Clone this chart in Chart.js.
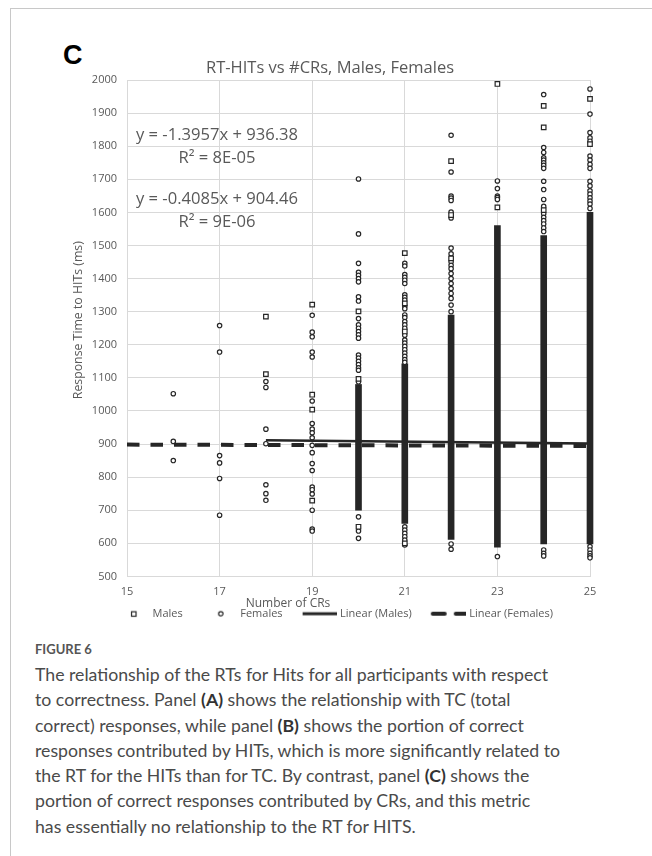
<!DOCTYPE html>
<html>
<head>
<meta charset="utf-8">
<script src="https://cdn.jsdelivr.net/npm/chart.js@4.4.1/dist/chart.umd.min.js"></script>
<style>
  html, body { margin: 0; padding: 0; background: #fff; }
  body { width: 652px; height: 856px; position: relative; overflow: hidden; font-family: "Lato", "Open Sans", sans-serif; }
  .frame { position: absolute; left: 10px; top: 8px; width: 700px; height: 900px; border-top: 1px solid #c8c8c8; border-left: 1px solid #c8c8c8; }
  .panel { position: absolute; left: 63px; top: 40px; font: bold 27px "Liberation Sans", Arial, sans-serif; color: #000; line-height: 30px; }
  #wrap { position: absolute; left: 0; top: 0; width: 652px; height: 640px; }
  .fig { position: absolute; left: 35px; top: 641px; font-size: 13px; font-weight: 700; color: #555; }
  .caption { position: absolute; left: 35px; top: 662px; width: 610px; font-size: 17.7px; line-height: 25.3px; color: #4a4a4a; white-space: nowrap; }
  .caption b { color: #333; }
</style>
</head>
<body>
<div class="frame"></div>
<div class="panel">C</div>
<div id="wrap"><canvas id="chart" width="652" height="640"></canvas></div>
<div class="fig">FIGURE 6</div>
<div class="caption">The relationship of the RTs for Hits for all participants with respect<br>to correctness. Panel <b>(A)</b> shows the relationship with TC (total<br>correct) responses, while panel <b>(B)</b> shows the portion of correct<br>responses contributed by HITs, which is more significantly related to<br>the RT for the HITs than for TC. By contrast, panel <b>(C)</b> shows the<br>portion of correct responses contributed by CRs, and this metric<br>has essentially no relationship to the RT for HITS.</div>
<script>
// chart texts
const chartTitle = "RT-HITs vs #CRs, Males, Females";
const xTitle = "Number of CRs";
const yTitle = "Response Time to HITs (ms)";
const fitLabels = ["y = -1.3957x + 936.38", "R\u00b2 = 8E-05", "y = -0.4085x + 904.46", "R\u00b2 = 9E-06"];

// axis ticks
const xTicks = [15, 17, 19, 21, 23, 25];
const yTicks = [500, 600, 700, 800, 900, 1000, 1100, 1200, 1300, 1400, 1500, 1600, 1700, 1800, 1900, 2000];

// sparse points (number of CRs, response time ms)
const malesCR = [18, 18, 19, 19, 19, 19, 20, 20, 20, 21, 21, 21, 21, 22, 22, 22, 23, 23, 24, 24, 24, 25, 25];
const malesRT = [1285, 1111, 1321, 1049, 1004, 729, 1301, 1097, 650, 1477, 1325, 1240, 600, 1755, 1592, 1461, 1988, 1615, 1922, 1857, 1607, 1943, 1806];

const femalesCR = [
  16, 16, 16,
  17, 17, 17, 17, 17, 17,
  18, 18, 18, 18, 18, 18, 18,
  19, 19, 19, 19, 19, 19, 19, 19, 19, 19, 19, 19, 19, 19, 19, 19, 19, 19, 19, 19,
  20, 20, 20, 20, 20, 20, 20, 20, 20, 20, 20, 20, 20, 20, 20, 20, 20, 20, 20, 20, 20, 20, 20, 20, 20,
  21, 21, 21, 21, 21, 21, 21, 21, 21, 21, 21, 21, 21, 21, 21, 21, 21, 21, 21, 21, 21, 21, 21, 21, 21, 21, 21, 21, 21, 21, 21,
  22, 22, 22, 22, 22, 22, 22, 22, 22, 22, 22, 22, 22, 22, 22, 22, 22, 22, 22, 22, 22, 22,
  23, 23, 23, 23, 23, 23,
  24, 24, 24, 24, 24, 24, 24, 24, 24, 24, 24, 24, 24, 24, 24, 24, 24, 24, 24, 24, 24,
  25, 25, 25, 25, 25, 25, 25, 25, 25, 25, 25, 25, 25, 25, 25, 25, 25, 25, 25, 25, 25, 25
];
const femalesRT = [
  1052, 908, 850,
  1258, 1178, 865, 843, 796, 685,
  1089, 1071, 945, 901, 777, 750, 730,
  1289, 1238, 1224, 1178, 1163, 1030, 962, 945, 934, 919, 896, 874, 841, 820, 770, 762, 749, 700, 643, 637,
  1701, 1535, 1446, 1419, 1410, 1400, 1390, 1345, 1332, 1279, 1260, 1250, 1240, 1230, 1220, 1169, 1160, 1150, 1140, 1130, 1123, 1088, 680, 637, 615,
  1446, 1438, 1412, 1404, 1395, 1385, 1351, 1343, 1335, 1317, 1309, 1290, 1282, 1270, 1260, 1250, 1229, 1214, 1205, 1195, 1185, 1175, 1165, 1155, 1147, 650, 640, 630, 620, 610, 595,
  1833, 1722, 1649, 1643, 1636, 1601, 1583, 1492, 1475, 1451, 1440, 1430, 1415, 1400, 1385, 1370, 1355, 1340, 1320, 1300, 598, 582,
  1695, 1672, 1649, 1645, 1639, 560,
  1956, 1796, 1781, 1765, 1758, 1750, 1742, 1733, 1694, 1669, 1639, 1618, 1596, 1585, 1575, 1565, 1553, 1542, 580, 570, 562,
  1973, 1897, 1841, 1825, 1815, 1770, 1758, 1745, 1733, 1694, 1680, 1665, 1655, 1644, 1634, 1625, 1612, 590, 580, 570, 562, 556
];

// ranges where markers overlap into a solid column
const denseCR = [20, 21, 22, 23, 24, 25];
const denseLow = [700, 660, 612, 588, 598, 598];
const denseHigh = [1080, 1142, 1290, 1560, 1530, 1600];

// trendline end points
const trendMalesCR = [18, 25];
const trendMalesRT = [911.3, 901.5];
const trendFemalesCR = [15, 25];
const trendFemalesRT = [898.3, 894.2];

const INK = "#262626";
const GREY = "#595959";
const FONT = "'Open Sans', sans-serif";

const toPoints = (xs, ys) => xs.map((x, i) => ({ x, y: ys[i] }));

// legend samples: 16px blank lead-in, then a 36px sample
const makeSample = (draw) => {
  const c = document.createElement("canvas");
  c.width = 52;
  c.height = 10;
  const g = c.getContext("2d");
  g.strokeStyle = INK;
  g.fillStyle = INK;
  g.translate(16, 0);
  draw(g);
  return c;
};

const samples = {
  Males: makeSample((g) => {
    g.fillStyle = "#fff";
    g.lineWidth = 1.2;
    g.fillRect(18.5, 3, 4.5, 4.5);
    g.strokeRect(18.5, 3, 4.5, 4.5);
  }),
  Females: makeSample((g) => {
    g.fillStyle = "#fff";
    g.lineWidth = 1.2;
    g.beginPath();
    g.arc(20, 5, 2.2, 0, Math.PI * 2);
    g.fill();
    g.stroke();
  }),
  "Linear (Males)": makeSample((g) => {
    g.lineWidth = 3;
    g.beginPath();
    g.moveTo(2, 5);
    g.lineTo(37, 5);
    g.stroke();
  }),
  "Linear (Females)": makeSample((g) => {
    g.lineWidth = 4;
    g.lineCap = "round";
    g.beginPath();
    g.moveTo(3, 5);
    g.lineTo(15, 5);
    g.moveTo(26, 5);
    g.lineTo(36, 5);
    g.stroke();
  }),
};

const textPlugin = {
  id: "chartTexts",
  afterDraw(chart) {
    const { ctx, chartArea: a } = chart;
    ctx.save();
    ctx.fillStyle = GREY;
    ctx.textAlign = "center";
    ctx.textBaseline = "middle";

    ctx.font = "16.5px " + FONT;
    ctx.fillText(chartTitle, 330, a.top - 12);

    ctx.font = "16.6px " + FONT;
    const fx = a.left + 90;
    ctx.fillText(fitLabels[0], fx, a.top + 55);
    ctx.fillText(fitLabels[1], fx, a.top + 78);
    ctx.fillText(fitLabels[2], fx, a.top + 119);
    ctx.fillText(fitLabels[3], fx, a.top + 142);

    ctx.font = "12px " + FONT;
    ctx.fillText(xTitle, 288, a.bottom + 27);

    ctx.font = "12.3px " + FONT;
    ctx.translate(78, (a.top + a.bottom) / 2 - 8);
    ctx.rotate(-Math.PI / 2);
    ctx.fillText(yTitle, 0, 0);
    ctx.restore();
  },
};

new Chart(document.getElementById("chart"), {
  type: "scatter",
  data: {
    datasets: [
      {
        label: "Linear (Males)",
        data: toPoints(trendMalesCR, trendMalesRT),
        showLine: true,
        borderColor: INK,
        borderWidth: 2.5,
        pointRadius: 0,
        clip: false,
        order: 0,
      },
      {
        label: "Linear (Females)",
        data: toPoints(trendFemalesCR, trendFemalesRT),
        showLine: true,
        borderColor: INK,
        borderWidth: 4,
        borderDash: [12.5, 11],
        pointRadius: 0,
        clip: false,
        order: 0,
      },
      {
        label: "Males",
        data: toPoints(malesCR, malesRT),
        pointStyle: "rect",
        pointRadius: 3.2,
        borderWidth: 1.2,
        borderColor: INK,
        backgroundColor: "#fff",
        clip: false,
        order: 1,
      },
      {
        label: "Females",
        data: toPoints(femalesCR, femalesRT),
        pointStyle: "circle",
        pointRadius: 2.2,
        borderWidth: 1.2,
        borderColor: INK,
        backgroundColor: "#fff",
        clip: false,
        order: 1,
      },
      {
        type: "bar",
        label: "dense",
        data: denseCR.map((x, i) => ({ x, y: [denseLow[i], denseHigh[i]] })),
        backgroundColor: INK,
        borderWidth: 0,
        barThickness: 6,
        clip: false,
        order: 2,
      },
    ],
  },
  options: {
    responsive: false,
    animation: false,
    layout: { padding: { left: 62, right: 62, top: 80, bottom: 10.8 } },
    plugins: {
      title: { display: false },
      tooltip: { enabled: false },
      legend: {
        position: "bottom",
        labels: {
          usePointStyle: true,
          pointStyleWidth: 48,
          padding: 4,
          color: GREY,
          font: { family: FONT, size: 11 },
          generateLabels: () =>
            ["Males", "Females", "Linear (Males)", "Linear (Females)"].map((text) => ({
              text,
              pointStyle: samples[text],
              fontColor: GREY,
              lineWidth: 0,
            })),
        },
      },
    },
    scales: {
      x: {
        type: "linear",
        min: 15,
        max: 25,
        offset: false,
        afterBuildTicks: (s) => { s.ticks = xTicks.map((value) => ({ value })); },
        afterFit: (s) => { s.height = 27.8; },
        grid: { color: "#d9d9d9", drawTicks: false, offset: false },
        border: { color: "#d9d9d9" },
        ticks: { color: GREY, font: { family: FONT, size: 11 }, padding: 9, maxRotation: 0, callback: (v) => String(v) },
      },
      y: {
        type: "linear",
        min: 500,
        max: 2000,
        afterBuildTicks: (s) => { s.ticks = yTicks.map((value) => ({ value })); },
        afterFit: (s) => { s.width = 127 - 62; },
        grid: { color: "#d9d9d9", drawTicks: false },
        border: { color: "#d9d9d9" },
        ticks: { color: GREY, font: { family: FONT, size: 11 }, padding: 10, callback: (v) => String(v) },
      },
    },
  },
  plugins: [textPlugin],
});
</script>
</body>
</html>
